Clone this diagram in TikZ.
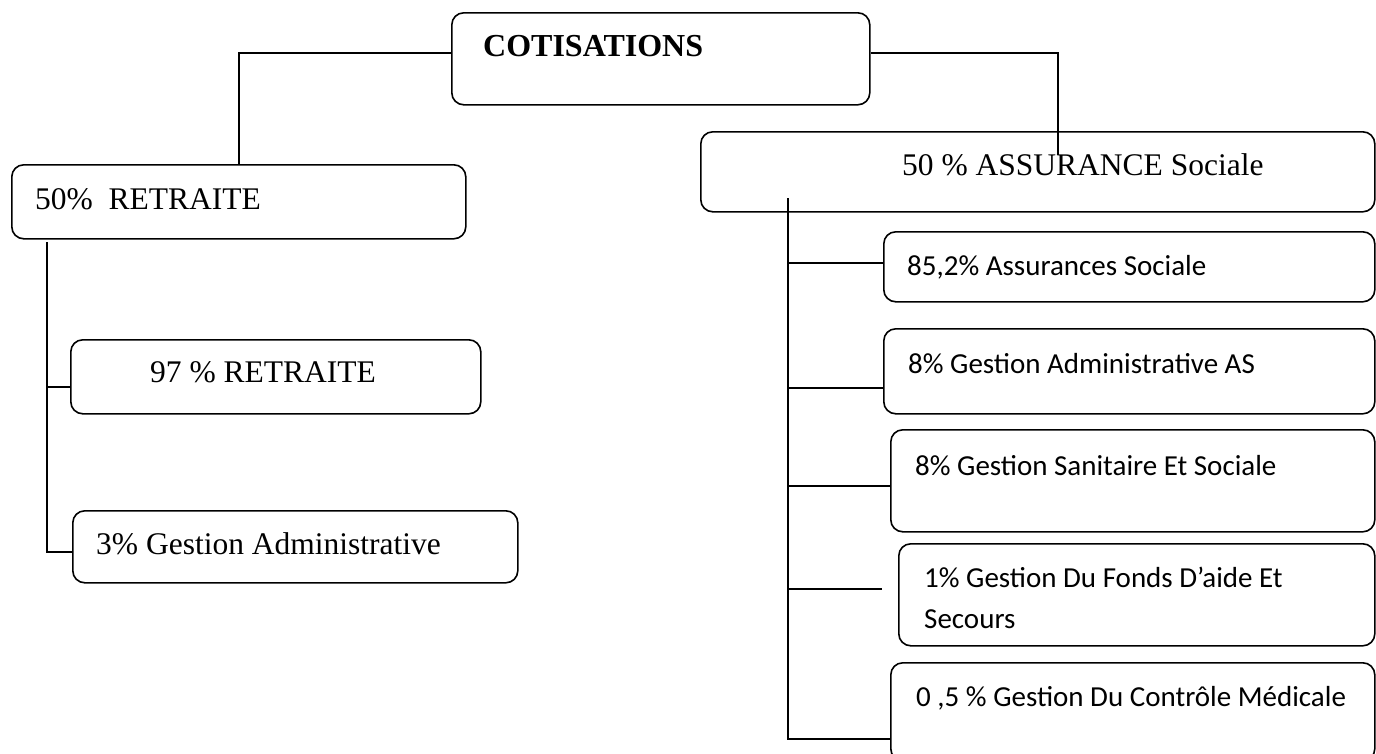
\documentclass[tikz,border=0pt]{standalone}
\usepackage{fontspec}
\setmainfont{Liberation Serif}
\newfontfamily\calib{Carlito}
\begin{document}
\begin{tikzpicture}[x=1pt,y=-1pt,
  box/.style={draw=black, line width=1.6pt, rounded corners=12pt, inner sep=0pt, anchor=north west},
  link/.style={draw=black, line width=1.6pt},
  ttxt/.style={inner sep=0pt, anchor=base west, font=\fontsize{31.5}{38}\selectfont},
  ctxt/.style={inner sep=0pt, anchor=base west, align=left, font=\calib\fontsize{29}{41}\selectfont},
]
\useasboundingbox (0,0) rectangle (1376,753);

% boxes
\node[box, minimum width=418pt, minimum height=92pt]  (cot) at (451,12)  {};
\node[box, minimum width=454pt, minimum height=74pt]  (ret) at (11,164)  {};
\node[box, minimum width=674pt, minimum height=80pt]  (ass) at (700,131) {};
\node[box, minimum width=410pt, minimum height=74pt]  (r97) at (70,339)  {};
\node[box, minimum width=445pt, minimum height=72pt]  (r3)  at (72,510)  {};
\node[box, minimum width=491pt, minimum height=70pt]  (a1)  at (883,231) {};
\node[box, minimum width=491pt, minimum height=85pt]  (a2)  at (883,328) {};
\node[box, minimum width=484pt, minimum height=102pt] (a3)  at (890,429) {};
\node[box, minimum width=476pt, minimum height=102pt] (a4)  at (898,543) {};
\node[box, minimum width=484pt, minimum height=98pt]  (a5)  at (890,662) {};

% labels (two-line label is anchored on its last baseline)
\node[ttxt, font=\bfseries\fontsize{32}{38}\selectfont] (tcot) at (483,56) {COTISATIONS};
\node[ttxt] (tret) at (35,209)  {50\%~~RETRAITE};
\node[ttxt] (tass) at (902,175) {50 \% ASSURANCE Sociale};
\node[ttxt] (tr97) at (150,382) {97 \% RETRAITE};
\node[ttxt] (tr3)  at (96,554)  {3\% Gestion Administrative};
\node[ctxt] (ta1)  at (907,275) {85,2\% Assurances Sociale};
\node[ctxt] (ta2)  at (908,373) {8\% Gestion Administrative AS};
\node[ctxt] (ta3)  at (915,475) {8\% Gestion Sanitaire Et Sociale};
\node[ctxt] (ta4)  at (924,628) {1\% Gestion Du Fonds D’aide Et\\Secours};
\node[ctxt] (ta5)  at (916,706) {0 ,5 \% Gestion Du Contrôle Médicale};

% top-level connectors
\coordinate (astub) at (1058,155);
\draw[link] ([yshift=6pt]cot.west) -| (ret.north);
\draw[link] ([yshift=6pt]cot.east) -| (astub);

% left branch
\coordinate (ltop) at (47,242);
\coordinate (lmid) at (47,387);
\coordinate (lbot) at (47,552);
\draw[link] (ltop) -- (lbot) -- (lbot -| r3.west);
\draw[link] (lmid) -- (lmid -| r97.west);

% right branch
\coordinate (rtop) at (788,198);
\coordinate (rb1) at (788,263);
\coordinate (rb2) at (788,388);
\coordinate (rb3) at (788,486);
\coordinate (rb4) at (788,589);
\coordinate (rb4end) at (882,589);
\coordinate (rb5) at (788,739);
\draw[link] (rtop) -- (rb5) -- (rb5 -| a5.west);
\draw[link] (rb1) -- (rb1 -| a1.west);
\draw[link] (rb2) -- (rb2 -| a2.west);
\draw[link] (rb3) -- (rb3 -| a3.west);
\draw[link] (rb4) -- (rb4end);
\end{tikzpicture}
\end{document}
